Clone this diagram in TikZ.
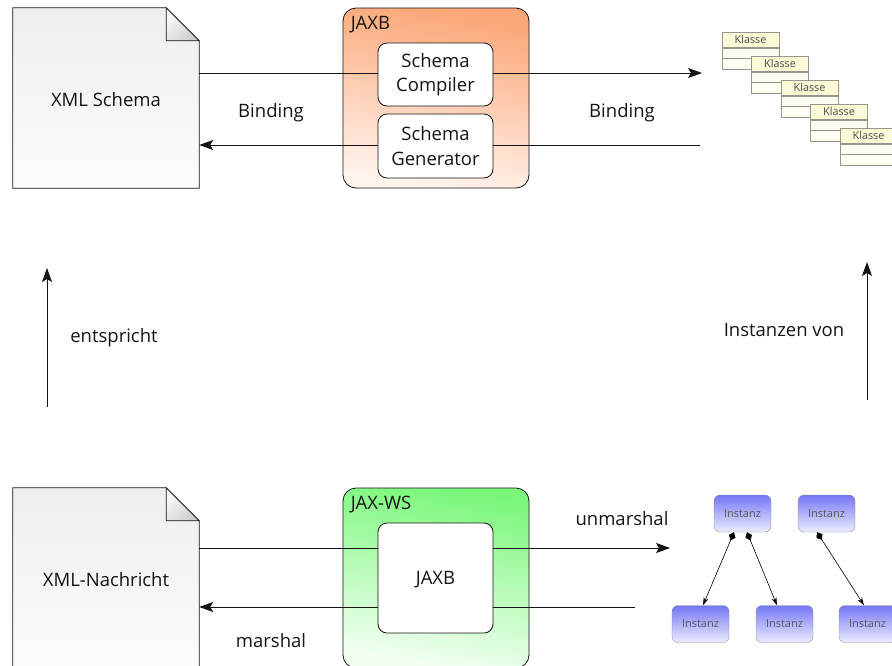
\documentclass[tikz,border=0pt]{standalone}
\usepackage{fontspec}
\setmainfont{Open Sans}
\usetikzlibrary{arrows.meta,backgrounds}

\definecolor{ink}{RGB}{20,20,20}
\definecolor{pagetop}{RGB}{238,238,238}
\definecolor{pagebot}{RGB}{252,252,252}
\definecolor{foldtop}{RGB}{250,250,250}
\definecolor{foldbot}{RGB}{205,205,205}
\definecolor{jaxbtop}{RGB}{251,166,118}
\definecolor{jaxbbot}{RGB}{255,244,238}
\definecolor{wstop}{RGB}{122,247,122}
\definecolor{wsbot}{RGB}{244,255,244}
\definecolor{insttop}{RGB}{118,118,246}
\definecolor{instbot}{RGB}{236,236,255}
\definecolor{instline}{RGB}{140,140,150}
\definecolor{clshead}{RGB}{250,250,214}
\definecolor{clsbody}{RGB}{253,253,242}
\definecolor{clsline}{RGB}{150,150,140}

\tikzset{
  lbl/.style={font=\fontsize{18.5}{24.5}\selectfont, text=ink},
  docnode/.style={minimum width=186pt, minimum height=180pt, inner sep=0pt},
  pageline/.style={draw=ink, line width=0.8pt, top color=pagetop, bottom color=pagebot},
  foldline/.style={draw=ink, line width=0.8pt, top color=foldtop, bottom color=foldbot, shading angle=45},
  outerbox/.style={draw=ink, line width=0.8pt, rounded corners=13pt,
    minimum width=186pt, minimum height=180pt},
  innerbox/.style={lbl, draw=ink, line width=0.8pt, fill=white, rounded corners=9pt,
    minimum width=115pt, align=center, inner sep=0pt},
  wire/.style={draw=ink, line width=0.8pt},
  arr/.style={wire, -{Stealth[length=14pt, width=10pt, inset=3pt]}},
  clshead/.style={draw=clsline, fill=clshead, minimum width=57pt, minimum height=15.6pt,
    inner sep=0pt, font=\fontsize{10.8}{12}\selectfont, text=black!70},
  clsrow/.style={draw=clsline, fill=clsbody},
  inst/.style={draw=instline, rounded corners=6pt, top color=insttop, bottom color=instbot,
    minimum width=57pt, minimum height=37pt, inner sep=0pt,
    font=\fontsize{11}{13}\selectfont, text=black!65},
  link/.style={draw=black, line width=0.6pt,
    {Diamond[length=9pt, width=7pt]}-{Stealth[length=8pt, width=5pt]}}
}

\begin{document}
\begin{tikzpicture}[x=1pt, y=-1pt]
\useasboundingbox (0,0) rectangle (892,665);
\clip (0,0) rectangle (892,665);

% ---------- upper row: schema side ----------
\node[docnode] (xsd) at (106,98) {};
\node[lbl] (xsdtext) at (106,100) {XML Schema};
\begin{scope}[on background layer]
  \path[pageline] (xsd.north west) -- ([xshift=-33pt]xsd.north east)
    -- ([yshift=-33pt]xsd.north east) -- (xsd.south east) -- (xsd.south west) -- cycle;
  \path[foldline] ([xshift=-33pt]xsd.north east) -- ([xshift=-33pt,yshift=-33pt]xsd.north east)
    -- ([yshift=-33pt]xsd.north east) -- cycle;
\end{scope}

\node[outerbox, top color=jaxbtop, bottom color=jaxbbot, shading angle=-10] (jaxb) at (436,98) {};
\node[lbl, anchor=base west, inner sep=0pt] (jaxbtitle) at ([xshift=8pt,yshift=-22pt]jaxb.north west) {JAXB};
\node[innerbox, minimum height=63pt] (comp) at (435.5,74.5) {Schema\\Compiler};
\node[innerbox, minimum height=64pt] (gen) at (435.5,146) {Schema\\Generator};

% class stack
\foreach \i in {0,...,4} {
  \node[clshead] (k\i) at ({750.5+29.5*\i},{39.8+24*\i}) {Klasse};
  \path[clsrow] (k\i.south west) rectangle ++(57,10.4);
  \path[clsrow] ([yshift=-10.4pt]k\i.south west) rectangle ++(57,10.6);
}

\coordinate (topin) at (702,73);
\coordinate (topout) at (700,145);
\path[wire] (xsd.east |- topin) -- (comp.west |- topin);
\path[arr] (comp.east |- topin) -- (topin);
\path[wire] (topout) -- (gen.east |- topout);
\path[arr] (gen.west |- topout) -- (xsd.east |- topout);

\node[lbl] (bind1) at (271,112.5) {Binding};
\node[lbl] (bind2) at (622,112.5) {Binding};

% ---------- vertical relations ----------
\coordinate (eqa) at (47,407);
\coordinate (eqb) at (47,268);
\path[arr] (eqa) -- (eqb);
\node[lbl] (eqlbl) at (114,337.5) {entspricht};

\coordinate (ina) at (867,400);
\coordinate (inb) at (867,262);
\path[arr] (ina) -- (inb);
\node[lbl] (inlbl) at (784,329.5) {Instanzen von};

% ---------- lower row: message side ----------
\node[docnode] (msg) at (106,578) {};
\node[lbl] (msgtext) at (106,580) {XML-Nachricht};
\begin{scope}[on background layer]
  \path[pageline] (msg.north west) -- ([xshift=-33pt]msg.north east)
    -- ([yshift=-33pt]msg.north east) -- (msg.south east) -- (msg.south west) -- cycle;
  \path[foldline] ([xshift=-33pt]msg.north east) -- ([xshift=-33pt,yshift=-33pt]msg.north east)
    -- ([yshift=-33pt]msg.north east) -- cycle;
\end{scope}

\node[outerbox, top color=wstop, bottom color=wsbot, shading angle=-10] (jaxws) at (436,578) {};
\node[lbl, anchor=base west, inner sep=0pt] (wstitle) at ([xshift=8pt,yshift=-22pt]jaxws.north west) {JAX-WS};
\node[innerbox, minimum height=110pt] (core) at (435.5,578) {};
\node[lbl] (coretext) at (435.5,580) {JAXB};

% instance objects
\node[inst] (ia) at (742.5,513.5) {Instanz};
\node[inst] (ib) at (826.5,513.5) {Instanz};
\node[inst] (ic) at (700.5,624) {Instanz};
\node[inst] (id) at (784.5,624) {Instanz};
\node[inst] (ie) at (867.5,624) {Instanz};
\path[link] ([xshift=-8.5pt]ia.south) -- ([xshift=2.5pt]ic.north);
\path[link] ([xshift=4.5pt]ia.south) -- ([xshift=-7.5pt]id.north);
\path[link] ([xshift=-9.5pt]ib.south) -- ([xshift=-3.5pt]ie.north);

\coordinate (botin) at (670,548);
\coordinate (botout) at (635,607);
\path[wire] (msg.east |- botin) -- (core.west |- botin);
\path[arr] (core.east |- botin) -- (botin);
\path[wire] (botout) -- (core.east |- botout);
\path[arr] (core.west |- botout) -- (msg.east |- botout);

\node[lbl] (unm) at (622,518.5) {unmarshal};
\node[lbl] (mar) at (271,641) {marshal};
\end{tikzpicture}
\end{document}
